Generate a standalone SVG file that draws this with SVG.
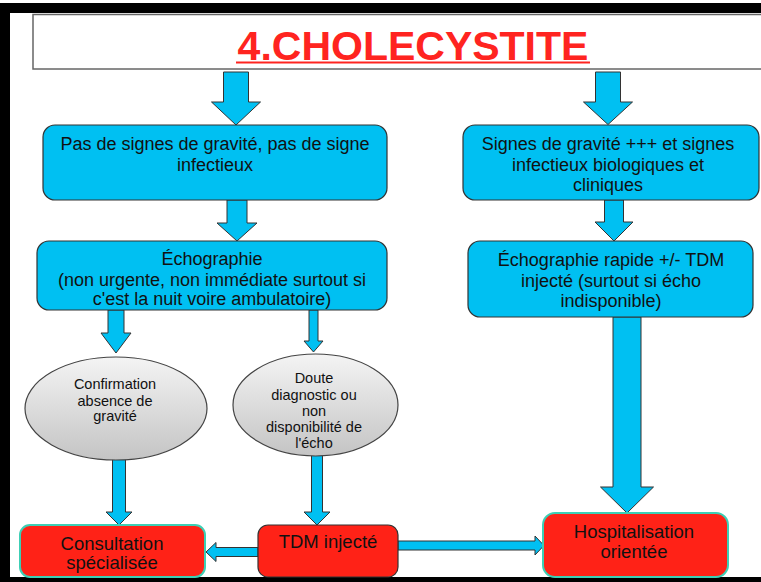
<svg xmlns="http://www.w3.org/2000/svg" width="761" height="582" viewBox="0 0 761 582">
<defs>
<linearGradient id="gray" x1="0" y1="0" x2="0" y2="1">
<stop offset="0" stop-color="#f4f4f4"/>
<stop offset="1" stop-color="#c4c4c4"/>
</linearGradient>
<style>
.t{font-family:"Liberation Sans",Arial,sans-serif;fill:#111;text-anchor:middle}
.b{fill:#00C0F2;stroke:#333;stroke-width:1.2}
.r{fill:#FF2217;stroke:#333;stroke-width:1.2}
.rg{fill:#FF2217;stroke:#3CCFB5;stroke-width:2}
.e{fill:url(#gray);stroke:#444;stroke-width:1.2}
.a{fill:#00C0F2;stroke:#333;stroke-width:1}
.f18{font-size:18px}
.f185{font-size:18.5px}
.f14{font-size:14.5px}
</style>
</defs>
<rect x="0" y="0" width="761" height="582" fill="#fff"/>
<rect x="0" y="3" width="761" height="579" fill="#000"/>
<rect x="10" y="13" width="751" height="564" fill="#fff"/>

<g id="title">
<rect x="33" y="14.5" width="740" height="54.5" fill="#fff" stroke="#666" stroke-width="1.5"/>
<text x="413" y="60" class="t" style="font-size:41px;font-weight:bold;fill:#FF2420">4.CHOLECYSTITE</text>
<rect x="236" y="61.5" width="354" height="2" fill="#FF2420"/>
</g>

<g id="connectors">
<polygon class="a" points="223.5,72 248.5,72 248.5,102 260.5,102 236,125 211.5,102 223.5,102"/>
<polygon class="a" points="595.5,72 620.5,72 620.5,102 632.5,102 608,124.5 583.5,102 595.5,102"/>
<polygon class="a" points="227,200 247,200 247,223 257,223 237,241 217,223 227,223"/>
<polygon class="a" points="604.5,200 623.5,200 623.5,222 633,222 614,241 595,222 604.5,222"/>
<polygon class="a" points="613,317 641,317 641,487 653.5,487 627,513 600.5,487 613,487"/>
<polygon class="a" points="108,310 124,310 124,333 131,333 116,353 101,333 108,333"/>
<polygon class="a" points="309,310 318,310 318,341 323,341 313.5,352 304,341 309,341"/>
<polygon class="a" points="112.5,459 125.5,459 125.5,512 132,512 119,525 106,512 112.5,512"/>
<polygon class="a" points="311.5,455 322.5,455 322.5,512 330,512 317,525 304,512 311.5,512"/>
<polygon class="a" points="258,547.5 216,547.5 216,542.5 206,552 216,561.5 216,556.5 258,556.5"/>
<polygon class="a" points="398,541 535,541 535,536 544,545.5 535,555 535,550 398,550"/>
</g>

<g id="node-pas-gravite">
<rect class="b" x="43" y="125" width="344" height="75" rx="12"/>
<text class="t f18" x="215" y="150">Pas de signes de gravité, pas de signe</text>
<text class="t f18" x="215" y="171">infectieux</text>
</g>

<g id="node-signes-gravite">
<rect class="b" x="463" y="125" width="296" height="75" rx="12"/>
<text class="t f18" x="608" y="150">Signes de gravité +++ et signes</text>
<text class="t f18" x="608" y="171">infectieux biologiques et</text>
<text class="t f18" x="608" y="191">cliniques</text>
</g>

<g id="node-echographie">
<rect class="b" x="37" y="241" width="350" height="69" rx="12"/>
<text class="t f18" x="212" y="265">Échographie</text>
<text class="t f18" x="212" y="285.5">(non urgente, non immédiate surtout si</text>
<text class="t f18" x="212" y="305">c'est la nuit voire ambulatoire)</text>
</g>

<g id="node-echo-rapide">
<rect class="b" x="468" y="241" width="285" height="76" rx="12"/>
<text class="t f18" x="611" y="266">Échographie rapide +/- TDM</text>
<text class="t f18" x="611" y="287">injecté (surtout si écho</text>
<text class="t f18" x="611" y="307">indisponible)</text>
</g>

<g id="node-confirmation">
<ellipse class="e" cx="116" cy="408.5" rx="91" ry="51.5"/>
<text class="t f14" x="115" y="389">Confirmation</text>
<text class="t f14" x="115" y="405.5">absence de</text>
<text class="t f14" x="115" y="421">gravité</text>
</g>

<g id="node-doute">
<ellipse class="e" cx="315.5" cy="405" rx="82.5" ry="51"/>
<text class="t f14" x="314" y="383">Doute</text>
<text class="t f14" x="314" y="400">diagnostic ou</text>
<text class="t f14" x="314" y="415.5">non</text>
<text class="t f14" x="314" y="432">disponibilité de</text>
<text class="t f14" x="314" y="447.5">l'écho</text>
</g>

<g id="node-consultation">
<rect class="rg" x="20" y="525" width="185" height="52" rx="10"/>
<text class="t f185" x="112" y="550">Consultation</text>
<text class="t f185" x="112" y="569">spécialisée</text>
</g>

<g id="node-tdm">
<rect class="r" x="258" y="525" width="140" height="52" rx="10"/>
<text class="t f185" x="328" y="548">TDM injecté</text>
</g>

<g id="node-hospitalisation">
<rect class="rg" x="543" y="513" width="185" height="64" rx="12"/>
<text class="t f185" x="634" y="538">Hospitalisation</text>
<text class="t f185" x="634" y="558">orientée</text>
</g>
</svg>
